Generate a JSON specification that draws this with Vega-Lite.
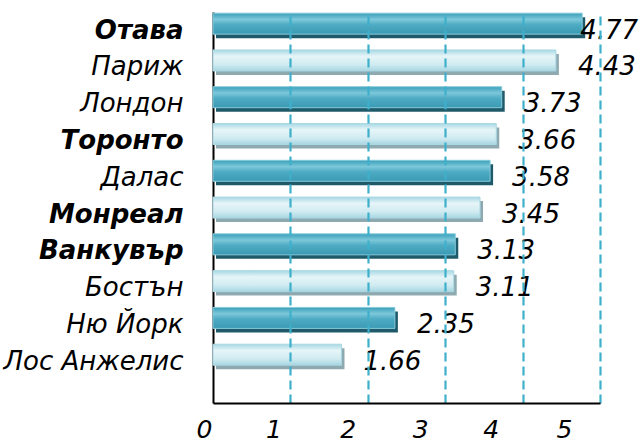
{
  "$schema": "https://vega.github.io/schema/vega-lite/v6.json",
  "width": 387,
  "height": 391,
  "autosize": {"type": "none"},
  "padding": {"left": 213, "top": 12, "right": 44, "bottom": 39},
  "background": "white",
  "config": {
    "view": {"stroke": null},
    "font": "DejaVu Sans"
  },
  "data": {
    "values": [
      {"city": "Отава", "value": 4.77, "tone": "dark"},
      {"city": "Париж", "value": 4.43, "tone": "light"},
      {"city": "Лондон", "value": 3.73, "tone": "dark"},
      {"city": "Торонто", "value": 3.66, "tone": "light"},
      {"city": "Далас", "value": 3.58, "tone": "dark"},
      {"city": "Монреал", "value": 3.45, "tone": "light"},
      {"city": "Ванкувър", "value": 3.13, "tone": "dark"},
      {"city": "Бостън", "value": 3.11, "tone": "light"},
      {"city": "Ню Йорк", "value": 2.35, "tone": "dark"},
      {"city": "Лос Анжелис", "value": 1.66, "tone": "light"}
    ]
  },
  "encoding": {
    "y": {
      "field": "city",
      "type": "nominal",
      "sort": ["Отава", "Париж", "Лондон", "Торонто", "Далас", "Монреал", "Ванкувър", "Бостън", "Ню Йорк", "Лос Анжелис"],
      "title": null,
      "scale": {"paddingInner": 0.43, "paddingOuter": 0.53, "align": 0.03},
      "axis": {
        "zindex": 0,
        "domainColor": "#000000",
        "domainWidth": 2,
        "ticks": false,
        "labelFont": "DejaVu Sans",
        "labelFontSize": 26,
        "labelFontStyle": "italic",
        "labelColor": "#000000",
        "labelPadding": 30,
        "labelOffset": 7,
        "labelLimit": 300,
        "labelFontWeight": {
          "condition": {"test": "indexof(['Отава','Торонто','Монреал','Ванкувър'], datum.value) >= 0", "value": "bold"},
          "value": "normal"
        }
      }
    },
    "x": {
      "field": "value",
      "type": "quantitative",
      "title": null,
      "scale": {"domain": [0, 5], "nice": false, "zero": true},
      "axis": {
        "zindex": 1,
        "values": [0, 1, 2, 3, 4, 5],
        "domainColor": "#000000",
        "domainWidth": 2,
        "ticks": false,
        "grid": true,
        "gridColor": "#3fb0cb",
        "gridWidth": 2.2,
        "gridDash": [9, 5],
        "gridOpacity": {"condition": {"test": "datum.value == 0", "value": 0}, "value": 1},
        "labelFont": "DejaVu Sans",
        "labelFontSize": 25,
        "labelFontStyle": "italic",
        "labelColor": "#000000",
        "labelPadding": 14,
        "labelFlush": false,
        "labelOffset": {
          "condition": [
            {"test": "datum.value == 0", "value": -9},
            {"test": "datum.value == 1", "value": -17},
            {"test": "datum.value == 2", "value": -20},
            {"test": "datum.value == 3", "value": -25},
            {"test": "datum.value == 4", "value": -32}
          ],
          "value": -36
        }
      }
    }
  },
  "layer": [
    {
      "transform": [{"filter": "datum.tone == 'dark'"}],
      "mark": {"type": "bar", "color": "#1f5a6a", "xOffset": 3, "x2Offset": 4, "yOffset": 4, "y2Offset": 4}
    },
    {
      "transform": [{"filter": "datum.tone == 'light'"}],
      "mark": {"type": "bar", "color": "#8fa9b1", "xOffset": 3, "x2Offset": 4, "yOffset": 4, "y2Offset": 4}
    },
    {
      "transform": [{"filter": "datum.tone == 'dark'"}],
      "mark": {
        "type": "bar",
        "stroke": "#86cadb",
        "strokeWidth": 1,
        "fill": {
          "gradient": "linear", "x1": 0, "y1": 0, "x2": 0, "y2": 1,
          "stops": [
            {"offset": 0, "color": "#3a9fb9"},
            {"offset": 0.3, "color": "#7dc8da"},
            {"offset": 0.55, "color": "#4eabc3"},
            {"offset": 1, "color": "#3b9ab4"}
          ]
        }
      }
    },
    {
      "transform": [{"filter": "datum.tone == 'light'"}],
      "mark": {
        "type": "bar",
        "stroke": "#a9d8e3",
        "strokeWidth": 1,
        "fill": {
          "gradient": "linear", "x1": 0, "y1": 0, "x2": 0, "y2": 1,
          "stops": [
            {"offset": 0, "color": "#a7d8e4"},
            {"offset": 0.3, "color": "#e6f5f8"},
            {"offset": 0.7, "color": "#d0ebf1"},
            {"offset": 1, "color": "#a8d6e2"}
          ]
        }
      }
    },
    {
      "mark": {
        "type": "text",
        "align": "left",
        "baseline": "middle",
        "dx": {"expr": "datum.value >= 4.7 ? -2 : 22"},
        "dy": 7,
        "font": "DejaVu Sans",
        "fontSize": 26,
        "fontStyle": "italic",
        "color": "#000000"
      },
      "encoding": {
        "text": {"field": "value", "type": "quantitative", "format": ".2f"}
      }
    }
  ]
}
